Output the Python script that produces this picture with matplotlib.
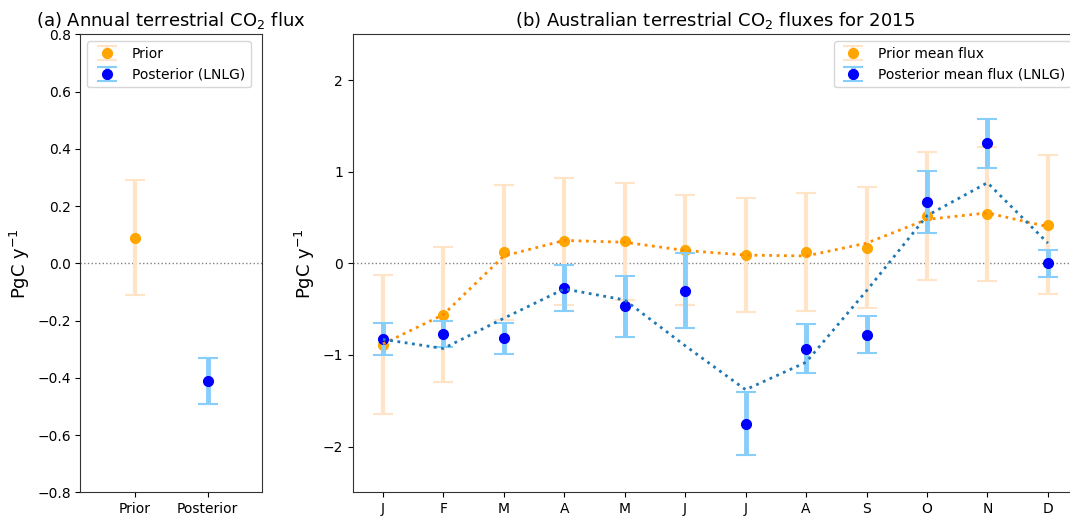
import matplotlib
matplotlib.use("Agg")
import matplotlib.pyplot as plt
import numpy as np

# (a) annual flux
ANN_LABELS = ["Prior", "Posterior"]
ANN_MEAN = [0.09, -0.41]
ANN_ERR = [0.20, 0.08]

# (b) monthly fluxes 2015
MONTHS = ["J", "F", "M", "A", "M", "J", "J", "A", "S", "O", "N", "D"]
PRIOR_MEAN = [-0.89, -0.56, 0.12, 0.24, 0.24, 0.15, 0.09, 0.12, 0.17, 0.52, 0.54, 0.42]
PRIOR_ERR = [0.76, 0.74, 0.74, 0.69, 0.64, 0.60, 0.62, 0.645, 0.66, 0.70, 0.73, 0.76]
POST_MEAN = [-0.83, -0.77, -0.82, -0.27, -0.47, -0.30, -1.75, -0.93, -0.78, 0.67, 1.31, 0.00]
POST_ERR = [0.175, 0.14, 0.17, 0.25, 0.33, 0.41, 0.34, 0.27, 0.20, 0.34, 0.27, 0.15]
# smoothed curves (dotted)
PRIOR_SMOOTH = [-0.88, -0.56, 0.08, 0.25, 0.23, 0.14, 0.09, 0.08, 0.22, 0.48, 0.55, 0.40]
POST_SMOOTH = [-0.83, -0.93, -0.60, -0.28, -0.40, -0.90, -1.38, -1.08, -0.30, 0.52, 0.88, 0.22]

PRIOR_BAR = "#ffe4c8"
POST_BAR = "#87cefa"
EB = dict(fmt="o", ms=7, capsize=7, capthick=1.5)

fig = plt.figure(figsize=(10.7, 5.16), dpi=100)
axA = fig.add_axes([0.0752, 0.0459, 0.1697, 0.8876])
axB = fig.add_axes([0.3296, 0.0459, 0.678, 0.8876])

for ax in (axA, axB):
    for s in ax.spines.values():
        s.set_color("#333333")

# (a)
xa = np.arange(len(ANN_LABELS))
axA.axhline(0, color="grey", ls=":", lw=1)
axA.errorbar(xa[0], ANN_MEAN[0], yerr=ANN_ERR[0], color="orange",
             ecolor=PRIOR_BAR, elinewidth=3, label="Prior", **EB)
axA.errorbar(xa[1], ANN_MEAN[1], yerr=ANN_ERR[1], color="blue",
             ecolor=POST_BAR, elinewidth=3.5, label="Posterior (LNLG)", **EB)
axA.set_xlim(-0.75, 1.75)
axA.set_ylim(-0.8, 0.8)
axA.set_yticks(np.arange(-0.8, 0.81, 0.2))
axA.set_xticks(xa)
axA.set_xticklabels(ANN_LABELS)
axA.set_ylabel("PgC y$^{-1}$", fontsize=13)
axA.set_title("(a) Annual terrestrial CO$_2$ flux", fontsize=13)
axA.legend(loc="upper left", fontsize=10)

# (b)
xb = np.arange(1, len(MONTHS) + 1)
axB.axhline(0, color="grey", ls=":", lw=1)
axB.errorbar(xb, PRIOR_MEAN, yerr=PRIOR_ERR, color="orange", ecolor=PRIOR_BAR,
             elinewidth=3, label="Prior mean flux", zorder=2, **EB)
axB.errorbar(xb, POST_MEAN, yerr=POST_ERR, color="blue", ecolor=POST_BAR,
             elinewidth=3.5, label="Posterior mean flux (LNLG)", zorder=3, **EB)
axB.plot(xb, PRIOR_SMOOTH, ls=":", lw=2, color="darkorange", zorder=4)
axB.plot(xb, POST_SMOOTH, ls=":", lw=2, color="#1f77b4", zorder=4)
axB.set_xlim(0.5, 12.5)
axB.set_ylim(-2.5, 2.5)
axB.set_yticks([-2, -1, 0, 1, 2])
axB.set_xticks(xb)
axB.set_xticklabels(MONTHS)
axB.set_ylabel("PgC y$^{-1}$", fontsize=13)
axB.set_title("(b) Australian terrestrial CO$_2$ fluxes for 2015", fontsize=13)
axB.legend(loc="upper right", fontsize=10)

fig.savefig("out.png", dpi=100)
